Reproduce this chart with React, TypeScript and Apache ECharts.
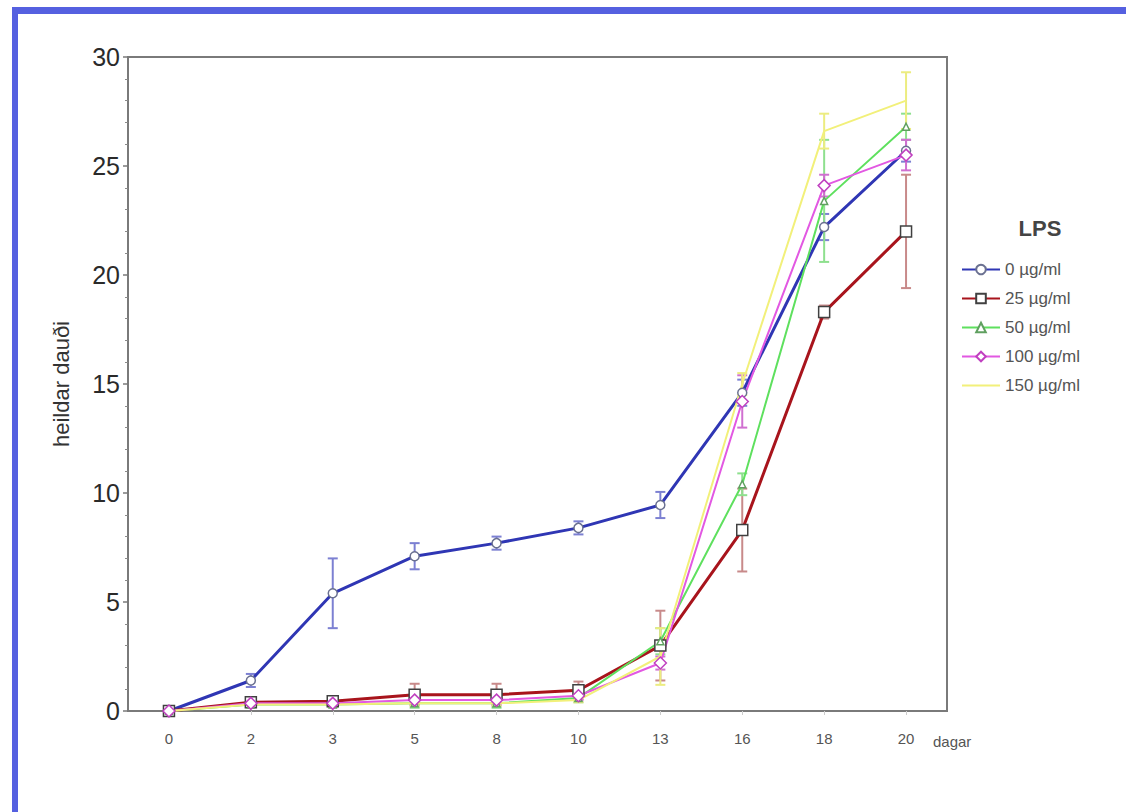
import React, { useEffect, useRef } from "react";
import * as echarts from "echarts";

const categories = ["0", "2", "3", "5", "8", "10", "13", "16", "18", "20"];
const seriesNames = ["0 µg/ml", "25 µg/ml", "50 µg/ml", "100 µg/ml", "150 µg/ml"];
const s0 = [0, 1.4, 5.4, 7.1, 7.7, 8.4, 9.45, 14.6, 22.2, 25.7];
const s0err = [0, 0.3, 1.6, 0.6, 0.3, 0.3, 0.6, 0.6, 0.6, 0.5];
const s25 = [0, 0.4, 0.45, 0.75, 0.75, 0.95, 3.0, 8.3, 18.3, 22.0];
const s25err = [0, 0.2, 0.2, 0.5, 0.5, 0.4, 1.6, 1.9, 0.3, 2.6];
const s50 = [0, 0.3, 0.3, 0.35, 0.35, 0.6, 3.2, 10.4, 23.4, 26.8];
const s50err = [0, 0.1, 0.1, 0.2, 0.2, 0.2, 0.6, 0.5, 2.8, 0.6];
const s100 = [0, 0.35, 0.35, 0.5, 0.5, 0.7, 2.2, 14.2, 24.1, 25.5];
const s100err = [0, 0.1, 0.1, 0.2, 0.2, 0.2, 0.3, 1.2, 0.5, 0.7];
const s150 = [0, 0.3, 0.3, 0.35, 0.35, 0.5, 2.5, 15.0, 26.6, 28.0];
const s150err = [0, 0.1, 0.1, 0.1, 0.1, 0.1, 1.3, 0.5, 0.8, 1.3];
const yTicks = [0, 5, 10, 15, 20, 25, 30];

const values = [s0, s25, s50, s100, s150];
const errors = [s0err, s25err, s50err, s100err, s150err];
const lineColors = ["#2f36b4", "#a8141c", "#5ee05e", "#e258e2", "#f2f07a"];
const errColors = ["#7c80d2", "#c88a8a", "#8ee08e", "#d070d0", "#ecec80"];
const symbols = ["circle", "rect", "triangle", "diamond", "circle"];
const symbolSizes = [9, 11, 7, 12, 6];
const symbolBorders = ["#6a7090", "#404040", "#60a060", "#c040c0", "#e0e070"];
const lineWidths = [3, 3, 2, 2, 2];
const showSymbols = [true, true, true, true, false];

export default function App() {
  const ref = useRef<HTMLDivElement>(null);
  useEffect(() => {
    document.body.style.margin = "0";
    const chart = echarts.init(ref.current!, undefined, { renderer: "svg" });
    const lineSeries = values.map((vals, k) => ({
      name: seriesNames[k],
      type: "line",
      data: vals,
      symbol: symbols[k],
      symbolSize: symbolSizes[k],
      showSymbol: showSymbols[k],
      z: 3,
      lineStyle: { color: lineColors[k], width: lineWidths[k] },
      itemStyle: { color: "#ffffff", borderColor: symbolBorders[k], borderWidth: 1.5 },
    }));
    const errSeries = values.map((vals, k) => ({
      name: "err" + k,
      type: "custom",
      z: 2,
      data: vals
        .map((v, i) => [i, v - errors[k][i], v + errors[k][i], errors[k][i]])
        .filter((d) => d[3] > 0),
      encode: { x: 0, y: [1, 2] },
      renderItem: (params: any, api: any) => {
        const x = api.value(0);
        const p1 = api.coord([x, api.value(2)]);
        const p2 = api.coord([x, api.value(1)]);
        const w = 5;
        const st = { stroke: errColors[k], lineWidth: 2 };
        return {
          type: "group",
          children: [
            { type: "line", shape: { x1: p1[0], y1: p1[1], x2: p2[0], y2: p2[1] }, style: st },
            { type: "line", shape: { x1: p1[0] - w, y1: p1[1], x2: p1[0] + w, y2: p1[1] }, style: st },
            { type: "line", shape: { x1: p2[0] - w, y1: p2[1], x2: p2[0] + w, y2: p2[1] }, style: st },
          ],
        };
      },
    }));
    chart.setOption({
      animation: false,
      backgroundColor: "#ffffff",
      textStyle: { fontFamily: "Liberation Sans, Arial, sans-serif" },
      grid: {
        left: 128,
        top: 57,
        right: 179,
        bottom: 101,
        show: true,
        borderColor: "#7a7a7a",
        borderWidth: 2,
        backgroundColor: "transparent",
      },
      legend: {
        data: seriesNames.map((n, k) =>
          showSymbols[k] ? { name: n } : { name: n, itemStyle: { opacity: 0 } }
        ),
        orient: "vertical",
        left: 956,
        top: 256,
        itemWidth: 38,
        itemHeight: 12,
        itemGap: 12,
        textStyle: { fontSize: 17, color: "#555555", fontFamily: "Liberation Sans, Arial, sans-serif" },
      },
      xAxis: {
        type: "category",
        data: categories,
        boundaryGap: true,
        axisLine: { lineStyle: { color: "#7a7a7a", width: 2 } },
        axisTick: { show: true, alignWithLabel: true, length: 4, lineStyle: { color: "#cccccc" } },
        axisLabel: { fontSize: 15, color: "#555555", margin: 20 },
        splitLine: { show: false },
      },
      yAxis: {
        type: "value",
        min: 0,
        max: 30,
        interval: 5,
        name: "heildar dauði",
        nameLocation: "middle",
        nameGap: 56,
        nameRotate: 90,
        nameTextStyle: { fontSize: 22, color: "#333333" },
        axisLine: { show: true, lineStyle: { color: "#7a7a7a", width: 2 } },
        axisTick: { show: true, length: 5, lineStyle: { color: "#7a7a7a", width: 1.5 } },
        minorTick: { show: true, splitNumber: 5, length: 3, lineStyle: { color: "#8a8a8a" } },
        axisLabel: {
          fontSize: 25,
          color: "#2a2a2a",
          margin: 8,
          formatter: (v: number) => (yTicks.includes(v) ? String(v) : ""),
        },
        splitLine: { show: false },
      },
      graphic: [
        { type: "rect", shape: { x: 12, y: 7, width: 1114, height: 7 }, style: { fill: "#5560e0" }, silent: true },
        { type: "rect", shape: { x: 12, y: 7, width: 6, height: 805 }, style: { fill: "#5560e0" }, silent: true },
        {
          type: "text",
          x: 1040,
          y: 228,
          style: {
            text: "LPS",
            fontSize: 22,
            fontWeight: "bold",
            fill: "#444444",
            align: "center",
            verticalAlign: "middle",
            fontFamily: "Liberation Sans, Arial, sans-serif",
          },
        },
        {
          type: "text",
          x: 933,
          y: 741,
          style: {
            text: "dagar",
            fontSize: 15,
            fill: "#555555",
            align: "left",
            verticalAlign: "middle",
            fontFamily: "Liberation Sans, Arial, sans-serif",
          },
        },
      ],
      series: [...errSeries, ...lineSeries],
    });
    return () => chart.dispose();
  }, []);
  return (
    <div
      ref={ref}
      style={{ position: "absolute", left: 0, top: 0, width: 1126, height: 812 }}
    />
  );
}
